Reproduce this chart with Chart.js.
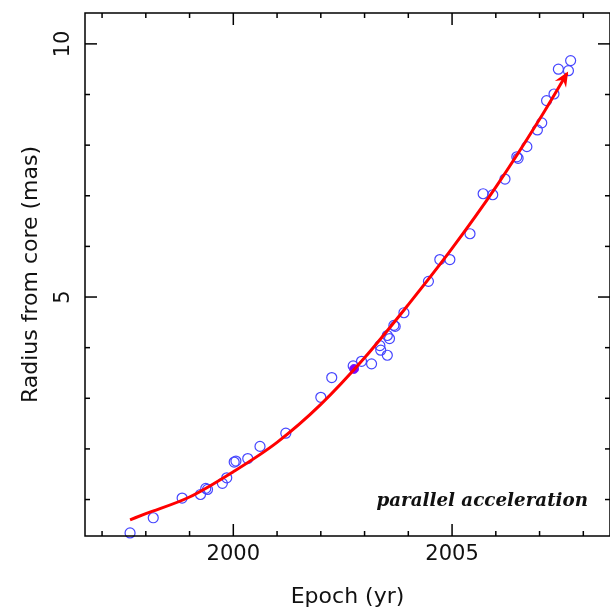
<!DOCTYPE html>
<html>
<head>
<meta charset="utf-8">
<script src="https://cdn.jsdelivr.net/npm/chart.js@4.4.0/dist/chart.umd.min.js"></script>
<style>
  html, body { margin: 0; padding: 0; background: #fff; }
  #wrap { width: 610px; height: 610px; }
</style>
</head>
<body>
<div id="wrap"><canvas id="chart" width="610" height="610"></canvas></div>
<script>
// measured component positions (epoch in yr, radius in mas)
const epochs = [
  1997.64, 1998.17, 1998.83, 1999.25, 1999.37, 1999.41, 1999.75, 1999.85,
  2000.02, 2000.06, 2000.33, 2000.61, 2001.20, 2002.00, 2002.25, 2002.74,
  2002.93, 2003.16, 2003.35, 2003.37, 2003.52, 2003.52, 2003.57, 2003.67,
  2003.70, 2003.90, 2004.46, 2004.72, 2004.95, 2005.41, 2005.71, 2005.93,
  2006.21, 2006.48, 2006.51, 2006.71, 2006.95, 2007.05, 2007.16, 2007.33,
  2007.43, 2007.66, 2007.71
];
const radii = [
  0.34, 0.64, 1.03, 1.10, 1.22, 1.20, 1.32, 1.43,
  1.74, 1.76, 1.81, 2.05, 2.31, 3.02, 3.41, 3.64,
  3.73, 3.68, 4.04, 3.95, 3.85, 4.24, 4.18, 4.44,
  4.42, 4.69, 5.31, 5.74, 5.74, 6.25, 7.04, 7.02,
  7.33, 7.77, 7.74, 7.97, 8.30, 8.44, 8.88, 9.01,
  9.50, 9.47, 9.67
];
const flaggedEpochs = [2002.76];
const flaggedRadii = [3.58];

// accelerated fit
const fitEpochs = [1997.64, 1998, 1999, 2000, 2001, 2002, 2003, 2004, 2005, 2006, 2007, 2007.63];
const fitRadii = [0.60, 0.72, 1.05, 1.55, 2.13, 2.88, 3.80, 4.85, 5.96, 7.17, 8.51, 9.42];

const xMajorTicks = [2000, 2005];
const xMinorTicks = [1997, 1998, 1999, 2001, 2002, 2003, 2004, 2006, 2007, 2008];
const yMajorTicks = [5, 10];
const yMinorTicks = [1, 2, 3, 4, 6, 7, 8, 9];
const annotation = "parallel acceleration";

const toPoints = (xs, ys) => xs.map((x, i) => ({ x: x, y: ys[i] }));

const framePlugin = {
  id: "frame",
  afterDatasetsDraw(chart) {
    // arrow head at the end of the fit
    const ctx = chart.ctx;
    const xs = chart.scales.x, ys = chart.scales.y;
    const n = fitEpochs.length;
    const x1 = xs.getPixelForValue(fitEpochs[n - 1]), y1 = ys.getPixelForValue(fitRadii[n - 1]);
    const x0 = xs.getPixelForValue(fitEpochs[n - 2]), y0 = ys.getPixelForValue(fitRadii[n - 2]);
    const ang = Math.atan2(y1 - y0, x1 - x0);
    ctx.save();
    ctx.translate(x1, y1);
    ctx.rotate(ang);
    ctx.fillStyle = "#ff0000";
    ctx.beginPath();
    ctx.moveTo(2, 0);
    ctx.lineTo(-13, -6.5);
    ctx.lineTo(-8, 0);
    ctx.lineTo(-13, 6.5);
    ctx.closePath();
    ctx.fill();
    ctx.restore();
  },
  afterDraw(chart) {
    const ctx = chart.ctx;
    const a = chart.chartArea;
    const xs = chart.scales.x, ys = chart.scales.y;
    ctx.save();
    ctx.strokeStyle = "#000";
    ctx.lineWidth = 1.5;
    ctx.strokeRect(a.left, a.top, a.right - a.left, a.bottom - a.top);
    const line = (xa, ya, xb, yb) => {
      ctx.beginPath(); ctx.moveTo(xa, ya); ctx.lineTo(xb, yb); ctx.stroke();
    };
    const tickX = (v, len) => {
      const p = xs.getPixelForValue(v);
      line(p, a.bottom, p, a.bottom - len);
      line(p, a.top, p, a.top + len);
    };
    const tickY = (v, len) => {
      const p = ys.getPixelForValue(v);
      line(a.left, p, a.left + len, p);
      line(a.right, p, a.right - len, p);
    };
    xMajorTicks.forEach((v) => tickX(v, 12));
    xMinorTicks.forEach((v) => tickX(v, 5));
    yMajorTicks.forEach((v) => tickY(v, 12));
    yMinorTicks.forEach((v) => tickY(v, 5));

    ctx.fillStyle = "#111";
    ctx.font = '21px "DejaVu Sans"';
    ctx.textAlign = "center";
    // x tick labels
    ctx.textBaseline = "top";
    xMajorTicks.forEach((v) => {
      ctx.fillText(String(v), xs.getPixelForValue(v), a.bottom + 8);
    });
    // rotated y tick labels
    ctx.textBaseline = "middle";
    yMajorTicks.forEach((v) => {
      ctx.save();
      ctx.translate(64, ys.getPixelForValue(v));
      ctx.rotate(-Math.PI / 2);
      ctx.fillText(String(v), 0, 0);
      ctx.restore();
    });

    // label in the lower right corner
    ctx.font = 'italic bold 16px "DejaVu Serif"';
    const size = 16 * 212 / ctx.measureText(annotation).width;
    ctx.font = "italic bold " + size.toFixed(1) + 'px "DejaVu Serif"';
    ctx.textAlign = "right";
    ctx.textBaseline = "alphabetic";
    ctx.fillText(annotation, 588, 506);
    ctx.restore();
  },
};

new Chart(document.getElementById("chart"), {
  type: "scatter",
  data: {
    datasets: [
      {
        type: "line",
        data: toPoints(fitEpochs, fitRadii),
        borderColor: "#ff0000",
        borderWidth: 3,
        pointRadius: 0,
        cubicInterpolationMode: "monotone",
        fill: false,
        clip: false,
      },
      {
        data: toPoints(flaggedEpochs, flaggedRadii),
        pointRadius: 4.5,
        pointBackgroundColor: "rgb(130,0,255)",
        pointBorderColor: "rgb(110,40,255)",
        pointBorderWidth: 1,
        clip: false,
      },
      {
        data: toPoints(epochs, radii),
        pointRadius: 5,
        pointBackgroundColor: "rgba(0,0,0,0)",
        pointBorderColor: "rgb(70,70,255)",
        pointBorderWidth: 1.2,
        clip: false,
      },
    ],
  },
  options: {
    responsive: false,
    devicePixelRatio: 1,
    animation: false,
    layout: { autoPadding: false, padding: { left: 0, top: 13, right: 0, bottom: 0 } },
    plugins: { legend: { display: false }, tooltip: { enabled: false } },
    scales: {
      x: {
        type: "linear",
        min: 1996.61,
        max: 2008.61,
        afterFit: (s) => { s.height = 74; },
        grid: { display: false, drawTicks: false },
        border: { display: false },
        ticks: { display: false },
        title: {
          display: true,
          text: "Epoch (yr)",
          color: "#111",
          font: { family: "DejaVu Sans", size: 22 },
          padding: { top: 0, bottom: 0 },
        },
      },
      y: {
        type: "linear",
        min: 0.28,
        max: 10.61,
        afterFit: (s) => { s.width = 85; },
        grid: { display: false, drawTicks: false },
        border: { display: false },
        ticks: { display: false },
        title: {
          display: true,
          text: "Radius from core (mas)",
          color: "#111",
          font: { family: "DejaVu Sans", size: 22 },
          padding: { top: 18, bottom: 0 },
        },
      },
    },
  },
  plugins: [framePlugin],
});
</script>
</body>
</html>
